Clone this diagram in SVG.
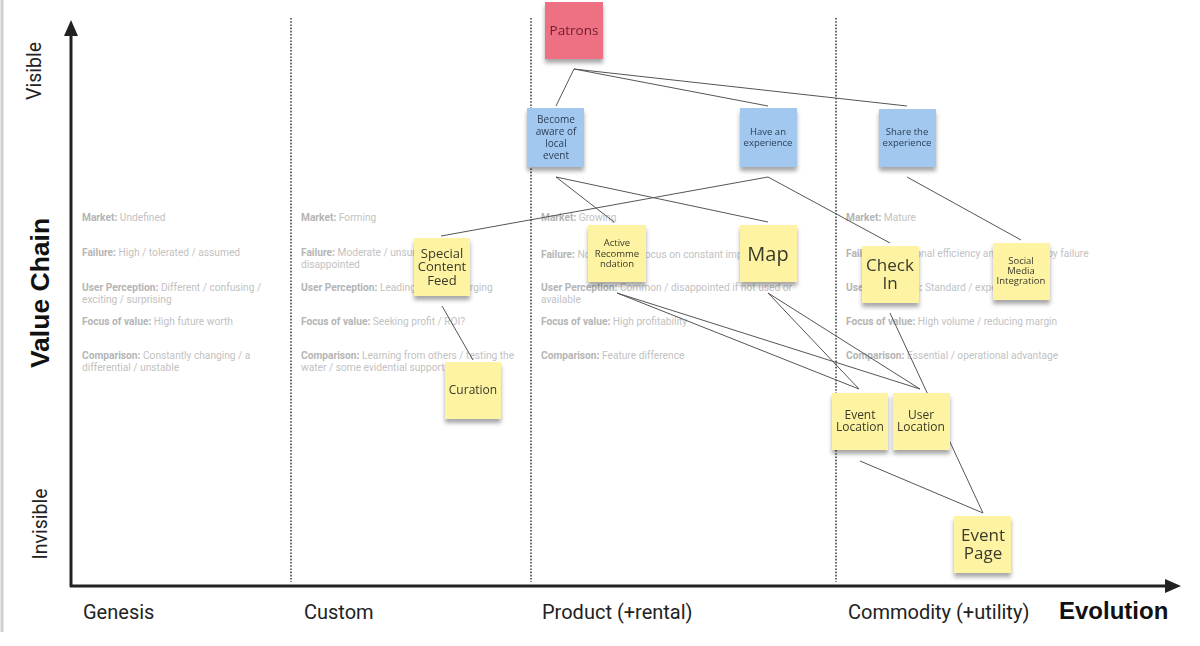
<svg xmlns="http://www.w3.org/2000/svg" width="1200" height="646" viewBox="0 0 1200 646">
<defs>
<style>
.axis{stroke:#222;stroke-width:3;fill:none}
.div{stroke:#444;stroke-width:1.6;stroke-dasharray:1.6 1.6;fill:none}
.con{stroke:#555;stroke-width:1;fill:none}
.note{filter:url(#sh)}
.y{fill:#fdf3a3}
.b{fill:#a2c8ef}
.p{fill:#ee6f83}
.nt{font-family:"Open Sans","Noto Sans",sans-serif;fill:#3a3a2a;text-anchor:middle}
.nb{fill:#2c3e55}
.np{fill:#6b1f2c}
.g{font-family:Roboto,"Liberation Sans",sans-serif;font-size:10.2px;fill:#c2c2c2}
.g tspan.k{font-weight:bold;fill:#b5b5b5}
.ax{font-family:Roboto,"Liberation Sans",sans-serif;fill:#222}
.axb{font-family:"Liberation Sans",Arial,sans-serif;font-weight:bold;fill:#111}
</style>
<filter id="sh" x="-20%" y="-20%" width="140%" height="150%">
<feDropShadow dx="0" dy="4" stdDeviation="2" flood-color="#000" flood-opacity="0.35"/>
</filter>
</defs>
<rect width="1200" height="646" fill="#fff"/>
<line x1="2" y1="0" x2="2" y2="632" stroke="#cfcfcf" stroke-width="3"/>

<g id="axes">
<line class="axis" x1="71" y1="32" x2="71" y2="587"/>
<line class="axis" x1="70" y1="586" x2="1166" y2="586"/>
<polygon points="71,20 64,36 78,36" fill="#222"/>
<polygon points="1181,586 1165,579 1165,593" fill="#222"/>
<line class="div" x1="291" y1="18" x2="291" y2="582"/>
<line class="div" x1="531" y1="18" x2="531" y2="582"/>
<line class="div" x1="836" y1="18" x2="836" y2="582"/>
</g>

<g id="axis-labels">
<text class="ax" font-size="19.5" text-anchor="middle" transform="translate(41,71) rotate(-90)">Visible</text>
<text class="axb" font-size="26.5" text-anchor="middle" transform="translate(49,293) rotate(-90)">Value Chain</text>
<text class="ax" font-size="19.5" text-anchor="middle" transform="translate(47,524) rotate(-90)">Invisible</text>
<text class="ax" font-size="20" x="83" y="619">Genesis</text>
<text class="ax" font-size="20" x="304" y="619">Custom</text>
<text class="ax" font-size="20" x="542" y="619">Product (+rental)</text>
<text class="ax" font-size="20" x="848" y="619">Commodity (+utility)</text>
<text class="axb" font-size="24" x="1059" y="619">Evolution</text>
</g>

<g id="stage-text">
<text class="g" x="82" y="221"><tspan class="k">Market:</tspan> Undefined</text>
<text class="g" x="82" y="256"><tspan class="k">Failure:</tspan> High / tolerated / assumed</text>
<text class="g" x="82" y="291"><tspan class="k">User Perception:</tspan> Different / confusing /</text>
<text class="g" x="82" y="303">exciting / surprising</text>
<text class="g" x="82" y="325"><tspan class="k">Focus of value:</tspan> High future worth</text>
<text class="g" x="82" y="359"><tspan class="k">Comparison:</tspan> Constantly changing / a</text>
<text class="g" x="82" y="371">differential / unstable</text>

<text class="g" x="301" y="221"><tspan class="k">Market:</tspan> Forming</text>
<text class="g" x="301" y="256"><tspan class="k">Failure:</tspan> Moderate / unsurprising but</text>
<text class="g" x="301" y="268">disappointed</text>
<text class="g" x="301" y="291"><tspan class="k">User Perception:</tspan> Leading edge / emerging</text>
<text class="g" x="301" y="325"><tspan class="k">Focus of value:</tspan> Seeking profit / ROI?</text>
<text class="g" x="301" y="359"><tspan class="k">Comparison:</tspan> Learning from others / testing the</text>
<text class="g" x="301" y="371">water / some evidential support</text>

<text class="g" x="541" y="221"><tspan class="k">Market:</tspan> Growing</text>
<text class="g" x="541" y="258"><tspan class="k">Failure:</tspan> Not tolerated, focus on constant improvement</text>
<text class="g" x="541" y="291"><tspan class="k">User Perception:</tspan> Common / disappointed if not used or</text>
<text class="g" x="541" y="303">available</text>
<text class="g" x="541" y="325"><tspan class="k">Focus of value:</tspan> High profitability</text>
<text class="g" x="541" y="359"><tspan class="k">Comparison:</tspan> Feature difference</text>

<text class="g" x="846" y="221"><tspan class="k">Market:</tspan> Mature</text>
<text class="g" x="846" y="257"><tspan class="k">Failure:</tspan> Operational efficiency and surprised by failure</text>
<text class="g" x="846" y="291"><tspan class="k">User Perception:</tspan> Standard / expected</text>
<text class="g" x="846" y="325"><tspan class="k">Focus of value:</tspan> High volume / reducing margin</text>
<text class="g" x="846" y="359"><tspan class="k">Comparison:</tspan> Essential / operational advantage</text>
</g>

<g id="connectors">
<line class="con" x1="574" y1="69" x2="556" y2="106"/>
<line class="con" x1="574" y1="69" x2="768" y2="106"/>
<line class="con" x1="574" y1="69" x2="907" y2="106"/>
<line class="con" x1="556" y1="177" x2="614" y2="222"/>
<line class="con" x1="556" y1="177" x2="768" y2="222"/>
<line class="con" x1="768" y1="177" x2="441" y2="236"/>
<line class="con" x1="768" y1="177" x2="890" y2="243"/>
<line class="con" x1="907" y1="177" x2="1021" y2="240"/>
<line class="con" x1="442" y1="306" x2="473" y2="360"/>
<line class="con" x1="617" y1="293" x2="859" y2="389"/>
<line class="con" x1="617" y1="293" x2="920" y2="389"/>
<line class="con" x1="768" y1="293" x2="859" y2="389"/>
<line class="con" x1="768" y1="293" x2="920" y2="389"/>
<line class="con" x1="890" y1="313" x2="983" y2="513"/>
<line class="con" x1="860" y1="461" x2="983" y2="513"/>
</g>

<g id="patrons" class="note"><rect class="p" x="545" y="2" width="58" height="57"/>
<text class="nt np" font-size="13.5" x="574" y="35">Patrons</text></g>

<g id="become-aware" class="note"><rect class="b" x="527" y="108" width="57" height="59"/>
<text class="nt nb" font-size="10"><tspan x="556" y="123">Become</tspan><tspan x="556" y="135">aware of</tspan><tspan x="556" y="147">local</tspan><tspan x="556" y="159">event</tspan></text></g>

<g id="have-experience" class="note"><rect class="b" x="740" y="108" width="57" height="59"/>
<text class="nt nb" font-size="9.5"><tspan x="768" y="135">Have an</tspan><tspan x="768" y="146">experience</tspan></text></g>

<g id="share-experience" class="note"><rect class="b" x="879" y="109" width="57" height="58"/>
<text class="nt nb" font-size="9.5"><tspan x="907" y="135">Share the</tspan><tspan x="907" y="146">experience</tspan></text></g>

<g id="special-content-feed" class="note"><rect class="y" x="414" y="238" width="56" height="58"/>
<text class="nt" font-size="13"><tspan x="442" y="258">Special</tspan><tspan x="442" y="271">Content</tspan><tspan x="442" y="285">Feed</tspan></text></g>

<g id="active-recommendation" class="note"><rect class="y" x="588" y="225" width="58" height="57"/>
<text class="nt" font-size="9.5"><tspan x="617" y="246">Active</tspan><tspan x="617" y="257">Recomme</tspan><tspan x="617" y="267">ndation</tspan></text></g>

<g id="map" class="note"><rect class="y" x="740" y="225" width="57" height="57"/>
<text class="nt" font-size="20" x="768" y="261">Map</text></g>

<g id="check-in" class="note"><rect class="y" x="862" y="246" width="57" height="57"/>
<text class="nt" font-size="17"><tspan x="890" y="271">Check</tspan><tspan x="890" y="289">In</tspan></text></g>

<g id="social-media" class="note"><rect class="y" x="993" y="243" width="57" height="57"/>
<text class="nt" font-size="9.5"><tspan x="1021" y="264">Social</tspan><tspan x="1021" y="274">Media</tspan><tspan x="1021" y="284">Integration</tspan></text></g>

<g id="curation" class="note"><rect class="y" x="445" y="362" width="56" height="57"/>
<text class="nt" font-size="12" x="473" y="394">Curation</text></g>

<g id="event-location" class="note"><rect class="y" x="832" y="393" width="56" height="57"/>
<text class="nt" font-size="12"><tspan x="860" y="419">Event</tspan><tspan x="860" y="431">Location</tspan></text></g>

<g id="user-location" class="note"><rect class="y" x="893" y="393" width="57" height="57"/>
<text class="nt" font-size="12"><tspan x="921" y="419">User</tspan><tspan x="921" y="431">Location</tspan></text></g>

<g id="event-page" class="note"><rect class="y" x="954" y="516" width="57" height="57"/>
<text class="nt" font-size="17"><tspan x="983" y="541">Event</tspan><tspan x="983" y="559">Page</tspan></text></g>
</svg>
